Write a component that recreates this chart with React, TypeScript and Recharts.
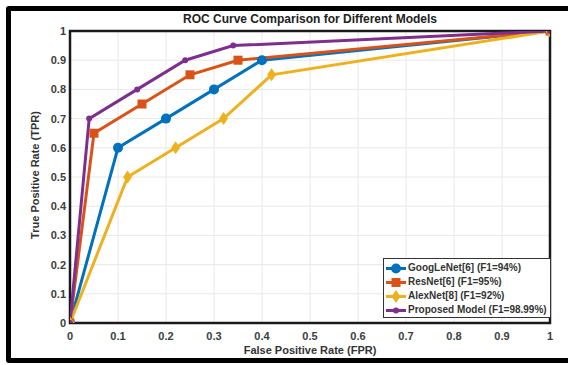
import React from "react";
import { LineChart, Line, XAxis, YAxis, CartesianGrid, ReferenceArea } from "recharts";

// axis ticks (shared by x and y)
const axisTicks = [0, 0.1, 0.2, 0.3, 0.4, 0.5, 0.6, 0.7, 0.8, 0.9, 1];
const tickLabels = ["0", "0.1", "0.2", "0.3", "0.4", "0.5", "0.6", "0.7", "0.8", "0.9", "1"];

// ROC points
const googleFpr = [0, 0.1, 0.2, 0.3, 0.4, 1];
const googleTpr = [0, 0.6, 0.7, 0.8, 0.9, 1];
const resnetFpr = [0, 0.05, 0.15, 0.25, 0.35, 1];
const resnetTpr = [0, 0.65, 0.75, 0.85, 0.9, 1];
const alexFpr = [0, 0.12, 0.22, 0.32, 0.42, 1];
const alexTpr = [0, 0.5, 0.6, 0.7, 0.85, 1];
const proposedFpr = [0, 0.04, 0.14, 0.24, 0.34, 1];
const proposedTpr = [0, 0.7, 0.8, 0.9, 0.95, 1];

const seriesNames = [
  "GoogLeNet[6] (F1=94%)",
  "ResNet[6] (F1=95%)",
  "AlexNet[8] (F1=92%)",
  "Proposed Model (F1=98.99%)",
];

const toPoints = (fpr: number[], tpr: number[]) => fpr.map((x, i) => ({ fpr: x, tpr: tpr[i] }));

const series = [
  { name: seriesNames[0], data: toPoints(googleFpr, googleTpr), color: "#0072BD", marker: "circle" },
  { name: seriesNames[1], data: toPoints(resnetFpr, resnetTpr), color: "#D95319", marker: "square" },
  { name: seriesNames[2], data: toPoints(alexFpr, alexTpr), color: "#EDB120", marker: "diamond" },
  { name: seriesNames[3], data: toPoints(proposedFpr, proposedTpr), color: "#7E2F8E", marker: "dot" },
];

const FONT = "'Liberation Sans', Arial, sans-serif";

function Marker({ cx, cy, color, kind }: { cx: number; cy: number; color: string; kind: string }) {
  if (kind === "square") return <rect x={cx - 4.5} y={cy - 4.5} width={9} height={9} fill={color} />;
  if (kind === "diamond")
    return <polygon points={`${cx},${cy - 6.5} ${cx + 4.5},${cy} ${cx},${cy + 6.5} ${cx - 4.5},${cy}`} fill={color} />;
  if (kind === "dot") return <circle cx={cx} cy={cy} r={3} fill={color} />;
  return <circle cx={cx} cy={cy} r={5} fill={color} />;
}

function ChartLegend() {
  return (
    <div
      style={{
        position: "absolute",
        left: 383,
        top: 258,
        width: 168,
        height: 60,
        border: "1.5px solid #333",
        background: "#fff",
        padding: "2px 0 0 1px",
        fontFamily: FONT,
        fontSize: 10,
        fontWeight: "bold",
        color: "#333",
        boxSizing: "border-box",
      }}
    >
      {series.map((s) => (
        <div key={s.name} style={{ display: "flex", alignItems: "center", height: 14, lineHeight: "14px" }}>
          <svg width={22} height={13} style={{ flex: "none" }}>
            <line x1={1} y1={6.5} x2={21} y2={6.5} stroke={s.color} strokeWidth={3} />
            <Marker cx={11} cy={6.5} color={s.color} kind={s.marker} />
          </svg>
          <span style={{ marginLeft: 1, whiteSpace: "nowrap" }}>{s.name}</span>
        </div>
      ))}
    </div>
  );
}

const tickStyle = { fill: "#3c3c3c", fontSize: 11, fontWeight: "bold" as const, fontFamily: FONT };

export default function App() {
  return (
    <div style={{ position: "absolute", left: 0, top: 0, width: 568, height: 365, background: "#fff", overflow: "hidden" }}>
      <div
        style={{
          position: "absolute",
          left: 6,
          top: 6,
          width: 600,
          height: 347,
          border: "5px solid #000",
          borderRadius: 3,
        }}
      />
      <div
        style={{
          position: "absolute",
          left: 110,
          top: 12,
          width: 400,
          textAlign: "center",
          fontFamily: FONT,
          fontWeight: "bold",
          fontSize: 12,
          color: "#222",
          lineHeight: "14px",
        }}
      >
        ROC Curve Comparison for Different Models
      </div>
      <div
        style={{
          position: "absolute",
          left: 160,
          top: 344,
          width: 300,
          textAlign: "center",
          fontFamily: FONT,
          fontWeight: "bold",
          fontSize: 11,
          color: "#333",
          lineHeight: "13px",
        }}
      >
        False Positive Rate (FPR)
      </div>
      <div
        style={{
          position: "absolute",
          left: 35 - 100,
          top: 175 - 7,
          width: 200,
          height: 14,
          textAlign: "center",
          fontFamily: FONT,
          fontWeight: "bold",
          fontSize: 11,
          color: "#333",
          lineHeight: "14px",
          transform: "rotate(-90deg)",
        }}
      >
        True Positive Rate (TPR)
      </div>
      <div style={{ position: "absolute", left: 0, top: 0 }}>
        <LineChart width={568} height={365} margin={{ top: 31, right: 18, bottom: 0, left: 0 }}>
          <CartesianGrid stroke="#e8e8e8" strokeWidth={1} />
          <XAxis
            type="number"
            dataKey="fpr"
            domain={[0, 1]}
            ticks={axisTicks}
            tickFormatter={(v, i) => tickLabels[i]}
            height={42}
            axisLine={false}
            tickLine={false}
            tickSize={0}
            tickMargin={9}
            tick={tickStyle}
            allowDataOverflow
          />
          <YAxis
            type="number"
            dataKey="tpr"
            domain={[0, 1]}
            ticks={axisTicks}
            tickFormatter={(v, i) => tickLabels[i]}
            width={70}
            axisLine={false}
            tickLine={false}
            tickSize={0}
            tickMargin={4}
            tick={tickStyle}
            allowDataOverflow
          />
          <ReferenceArea x1={0} x2={1} y1={0} y2={1} fill="none" stroke="#1a1a1a" strokeWidth={2.5} ifOverflow="visible" />
          {series.map((s) => (
            <Line
              key={s.name}
              data={s.data}
              dataKey="tpr"
              name={s.name}
              type="linear"
              stroke={s.color}
              strokeWidth={3}
              dot={(p: any) => <Marker key={`${s.name}-${p.index}`} cx={p.cx} cy={p.cy} color={s.color} kind={s.marker} />}
              activeDot={false}
              isAnimationActive={false}
            />
          ))}
        </LineChart>
      </div>
      <ChartLegend />
    </div>
  );
}
